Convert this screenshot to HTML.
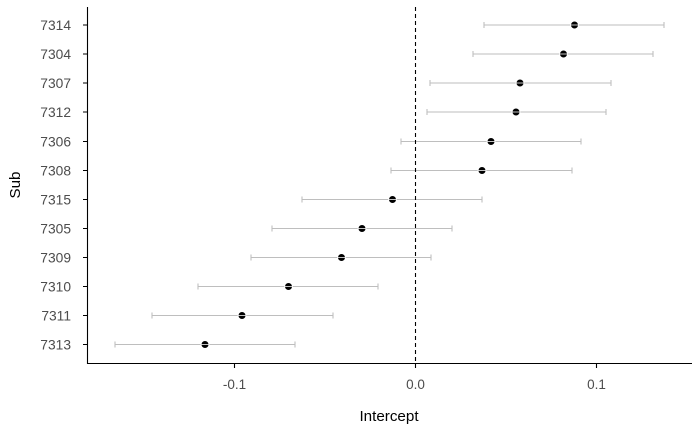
<!DOCTYPE html>
<html><head><style>body{margin:0;background:#fff}svg{display:block}</style></head><body>
<svg width="700" height="432" xmlns="http://www.w3.org/2000/svg" font-family="Liberation Sans, sans-serif">
<rect width="700" height="432" fill="#fff"/>
<g stroke="#bebebe" stroke-width="1.1" fill="none">
<path d="M484 25H664M484 22V28M664 22V28"/>
<path d="M473 54H653M473 51V57M653 51V57"/>
<path d="M430 83H611M430 80V86M611 80V86"/>
<path d="M427 112H606M427 109V115M606 109V115"/>
<path d="M401 141.5H581M401 138.5V144.5M581 138.5V144.5"/>
<path d="M391 170.5H572M391 167.5V173.5M572 167.5V173.5"/>
<path d="M302 199.5H482M302 196.5V202.5M482 196.5V202.5"/>
<path d="M272 228.5H452M272 225.5V231.5M452 225.5V231.5"/>
<path d="M251 257.5H431M251 254.5V260.5M431 254.5V260.5"/>
<path d="M198 286.5H378M198 283.5V289.5M378 283.5V289.5"/>
<path d="M152 315.5H333M152 312.5V318.5M333 312.5V318.5"/>
<path d="M115 344.5H295M115 341.5V347.5M295 341.5V347.5"/>
</g>
<line x1="415.5" y1="7" x2="415.5" y2="363" stroke="#000" stroke-width="1.1" stroke-dasharray="4,3"/>
<g fill="#000">
<circle cx="574.5" cy="25" r="3.5"/><circle cx="563.5" cy="54" r="3.5"/><circle cx="520" cy="83" r="3.5"/>
<circle cx="516" cy="112" r="3.5"/><circle cx="491" cy="141.5" r="3.5"/><circle cx="482" cy="170.5" r="3.5"/>
<circle cx="392.5" cy="199.5" r="3.5"/><circle cx="362" cy="228.5" r="3.5"/><circle cx="341.5" cy="257.5" r="3.5"/>
<circle cx="288.5" cy="286.5" r="3.5"/><circle cx="242" cy="315.5" r="3.5"/><circle cx="205" cy="344.5" r="3.5"/>
</g>
<g stroke="#fff" stroke-width="0.8"><path d="M570 25H579M559 54H568M515.5 83H524.5M511.5 112H520.5M486.5 141.5H495.5M477.5 170.5H486.5M388 199.5H397M357.5 228.5H366.5M337 257.5H346M284 286.5H293M237.5 315.5H246.5M200.5 344.5H209.5"/></g>
<g stroke="#000" stroke-width="1.1" fill="none">
<path d="M87.5 7V363.5H692"/>
<path d="M83 25H87.5M83 54H87.5M83 83H87.5M83 112H87.5M83 141.5H87.5M83 170.5H87.5M83 199.5H87.5M83 228.5H87.5M83 257.5H87.5M83 286.5H87.5M83 315.5H87.5M83 344.5H87.5"/>
<path d="M234.5 363.5V368M415.5 363.5V368M596.5 363.5V368"/>
</g>
<g fill="#4d4d4d" font-size="13.8" text-anchor="end">
<text x="71" y="30">7314</text><text x="71" y="59">7304</text><text x="71" y="88">7307</text>
<text x="71" y="117">7312</text><text x="71" y="146.5">7306</text><text x="71" y="175.5">7308</text>
<text x="71" y="204.5">7315</text><text x="71" y="233.5">7305</text><text x="71" y="262.5">7309</text>
<text x="71" y="291.5">7310</text><text x="71" y="320.5">7311</text><text x="71" y="349.5">7313</text>
</g>
<g fill="#4d4d4d" font-size="13.5" text-anchor="middle">
<text x="234.5" y="389">-0.1</text><text x="415.5" y="389">0.0</text><text x="596.5" y="389">0.1</text>
</g>
<text x="389" y="421" font-size="15.2" text-anchor="middle" fill="#000">Intercept</text>
<text transform="translate(20 185) rotate(-90)" font-size="15.2" text-anchor="middle" fill="#000">Sub</text>
</svg>
</body></html>
